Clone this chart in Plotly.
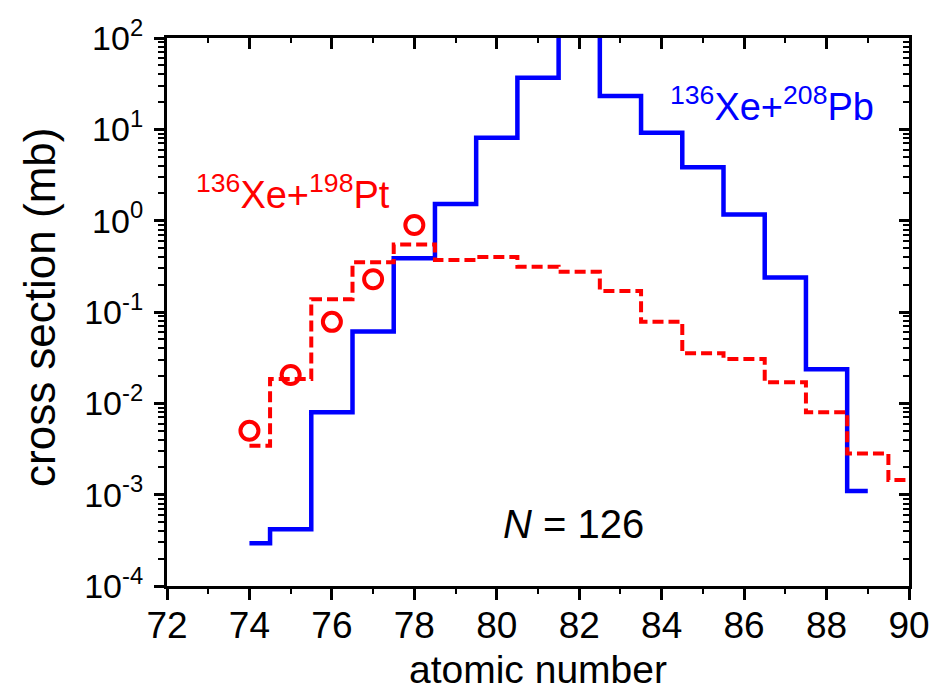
import plotly.graph_objects as go

# Data
z_pb = [74, 75, 76, 77, 78, 79, 80, 81, 82, 83, 84, 85, 86, 87, 88, 89]
sigma_pb = [2.93e-4, 4.18e-4, 7.97e-3, 0.061, 0.387, 1.52, 8.1, 36.8, 300.0,
            23.2, 9.19, 3.84, 1.17, 0.238, 0.0236, 1.10e-3]

z_pt = [74, 75, 76, 77, 78, 79, 80, 81, 82, 83, 84, 85, 86, 87, 88, 89, 90]
sigma_pt = [3.44e-3, 0.0185, 0.138, 0.35, 0.55, 0.37, 0.40, 0.313, 0.276, 0.17,
            0.078, 0.0353, 0.0306, 0.017, 0.0080, 0.00283, 0.00145]

z_exp = [74, 75, 76, 77, 78]
sigma_exp = [5.0e-3, 0.0204, 0.078, 0.228, 0.897]

x_ticks = [72, 74, 76, 78, 80, 82, 84, 86, 88, 90]
y_tickvals = [1e-4, 1e-3, 1e-2, 1e-1, 1e0, 1e1, 1e2]
y_ticktext = ["10<sup>-4</sup>", "10<sup>-3</sup>", "10<sup>-2</sup>", "10<sup>-1</sup>",
              "10<sup>0</sup>", "10<sup>1</sup>", "10<sup>2</sup>"]

RED = "#FF0000"
BLUE = "#0000FF"
FONT = "Liberation Sans, Arial, sans-serif"

fig = go.Figure()

fig.add_trace(go.Scatter(x=z_pb, y=sigma_pb, mode="lines",
                         line=dict(color=BLUE, width=4.5, shape="hvh"),
                         showlegend=False, hoverinfo="skip"))
fig.add_trace(go.Scatter(x=z_pt, y=sigma_pt, mode="lines",
                         line=dict(color=RED, width=4, shape="hvh", dash="11px,5px"),
                         showlegend=False, hoverinfo="skip"))
fig.add_trace(go.Scatter(x=z_exp, y=sigma_exp, mode="markers", xaxis="x2", yaxis="y2",
                         marker=dict(symbol="circle-open", size=18, color=RED,
                                     line=dict(color=RED, width=4)),
                         showlegend=False, hoverinfo="skip"))

axis_common = dict(showgrid=False, zeroline=False, showline=True, linecolor="black",
                   linewidth=3, tickcolor="black", tickwidth=2.5)

fig.update_layout(
    width=942, height=694,
    margin=dict(l=167, r=29, t=38, b=108),
    paper_bgcolor="white", plot_bgcolor="white",
    font=dict(family=FONT, color="black"),
    xaxis=dict(range=[72, 90], tickvals=x_ticks, ticks="outside", ticklen=11,
               ticklabelstandoff=-6,
               tickfont=dict(size=37, family=FONT),
               minor=dict(ticks="outside", ticklen=5, dtick=1, tickcolor="black", tickwidth=2),
               **axis_common),
    yaxis=dict(type="log", range=[-4, 2], tickvals=y_tickvals, ticktext=y_ticktext,
               ticks="outside", ticklen=10, ticklabelstandoff=4,
               tickfont=dict(size=34, family=FONT),
               minor=dict(ticks="outside", ticklen=6, dtick="D1", tickcolor="black", tickwidth=2),
               **axis_common),
    xaxis2=dict(range=[72, 90], overlaying="x", side="top", anchor="y2",
                tickvals=x_ticks, ticks="inside", ticklen=11, showticklabels=False,
                minor=dict(ticks="inside", ticklen=5, dtick=1, tickcolor="black", tickwidth=2),
                **axis_common),
    yaxis2=dict(type="log", range=[-4, 2], overlaying="y", side="right", anchor="x2",
                tickvals=y_tickvals, ticks="inside", ticklen=10, showticklabels=False,
                minor=dict(ticks="inside", ticklen=6, dtick="D1", tickcolor="black", tickwidth=2),
                **axis_common),
)

annotations = [
    dict(text="atomic number", xref="paper", yref="paper", x=0.5, y=-0.152,
         xanchor="center", yanchor="middle", showarrow=False,
         font=dict(size=39, family=FONT, color="black")),
    dict(text="cross section (mb)", xref="paper", yref="paper", x=-0.172, y=0.508,
         xanchor="center", yanchor="middle", textangle=-90, showarrow=False,
         font=dict(size=44, family=FONT, color="black")),
    dict(text="<sup>136</sup>Xe+<sup>198</sup>Pt", xref="x", yref="y", x=75.06, y=0.03,
         xanchor="center", yanchor="bottom", showarrow=False,
         font=dict(size=38, family=FONT, color=RED)),
    dict(text="<sup>136</sup>Xe+<sup>208</sup>Pb", xref="x", yref="y", x=86.67, y=0.99,
         xanchor="center", yanchor="bottom", showarrow=False,
         font=dict(size=38, family=FONT, color=BLUE)),
    dict(text="<i>N</i> = 126", xref="x", yref="y", x=81.86, y=-3.584,
         xanchor="center", yanchor="bottom", showarrow=False,
         font=dict(size=40, family=FONT, color="black")),
]
fig.update_layout(annotations=annotations)

fig.write_html("out.html")
